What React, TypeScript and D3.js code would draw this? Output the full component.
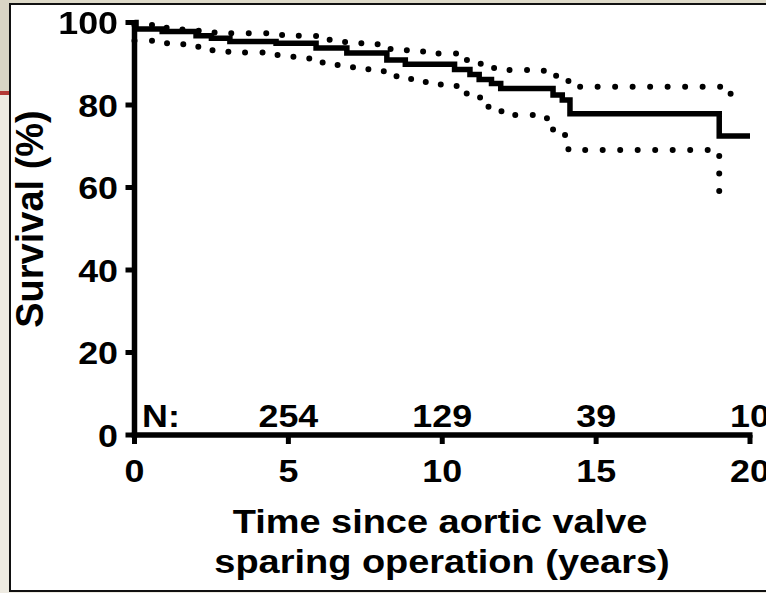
import React from 'react';
import * as d3 from 'd3';

const xTicks = [0, 5, 10, 15, 20];
const yTicks = [0, 20, 40, 60, 80, 100];
const atRiskTimes = [5, 10, 15, 20];
const atRisk = [254, 129, 39, 10];

// Kaplan-Meier estimate: [years, survival %], value holds until next point
const survival = [
  [0, 100], [0.05, 98.4], [0.9, 97.8], [2.0, 96.8], [2.5, 96.2], [3.1, 95.4], [4.6, 95.0],
  [5.9, 93.8], [6.9, 92.6], [8.2, 90.9], [8.8, 89.9], [10.4, 88.6], [10.9, 87.4], [11.2, 86.2],
  [11.6, 85.2], [11.9, 84.0], [13.6, 82.4], [13.9, 81.2], [14.15, 77.9], [19.0, 72.5], [20, 72.5],
];

// 95% confidence band
const upperCI = [
  [0, 99.4], [0.7, 98.7], [1.4, 98.3], [2.0, 98.0], [2.6, 97.6], [3.1, 97.4], [4.3, 97.0],
  [4.8, 96.8], [5.9, 95.8], [6.5, 95.3], [7.0, 95.0], [7.6, 94.7], [8.1, 93.6], [8.6, 93.3],
  [9.2, 93.0], [9.7, 92.5], [10.7, 90.9], [11.1, 90.0], [11.6, 89.0], [12.1, 88.5], [13.3, 87.8],
  [13.7, 86.5], [14.1, 84.4], [19.1, 82.7], [19.4, 82.7],
];
const lowerCI = [
  [0, 95.6], [0.6, 95.0], [1.2, 94.7], [1.8, 94.1], [2.3, 93.3], [2.8, 92.9], [3.4, 92.7],
  [4.5, 92.1], [5.0, 91.7], [5.6, 91.3], [6.1, 90.3], [6.6, 89.5], [7.1, 88.9], [7.6, 88.3],
  [8.1, 87.0], [8.6, 86.3], [9.1, 85.6], [9.6, 85.0], [10.1, 84.6], [10.5, 82.8], [10.9, 81.8],
  [11.3, 79.6], [11.7, 78.5], [12.2, 77.6], [13.2, 76.8], [13.6, 73.9], [13.9, 72.7], [14.1, 69.1],
  [19.0, 57.5], [19.3, 57.5],
];

const font = '"Liberation Sans", Arial, Helvetica, sans-serif';

export default function App() {
  const x = d3.scaleLinear().domain([0, 20]).range([134.5, 750]);
  const y = d3.scaleLinear().domain([0, 100]).range([435, 22.5]);

  const step = d3.line<number[]>()
    .x(d => x(d[0]))
    .y(d => y(d[1]))
    .curve(d3.curveStepAfter);

  const lab = (tx: number, ty: number, sx = 1.12) => `translate(${tx},${ty}) scale(${sx},1)`;

  return (
    <svg width={766} height={593} style={{ position: 'fixed', left: 0, top: 0 }}
      fontFamily={font} fontWeight="bold">
      {/* page background around the figure box */}
      <rect x={0} y={0} width={766} height={593} fill="#eeebe2" />
      <rect x={0} y={0} width={766} height={4} fill="#dedac9" />
      <rect x={0} y={0} width={10} height={92} fill="#d9d5c5" />
      <rect x={0} y={91} width={10} height={4} fill="#b33a36" />
      <rect x={10} y={4} width={770} height={587} fill="#fff" stroke="#111" strokeWidth={2} />

      {/* confidence band */}
      {[upperCI, lowerCI].map((band, i) => (
        <path key={i} d={step(band) ?? ''} fill="none" stroke="#000" strokeWidth={6}
          strokeLinecap="round" strokeDasharray="0 17.5" />
      ))}
      {/* survival curve */}
      <path d={step(survival) ?? ''} fill="none" stroke="#000" strokeWidth={5.5} />

      {/* axes */}
      <line x1={x(0)} x2={x(0)} y1={y(100) - 2.5} y2={y(0) + 2.75} stroke="#000" strokeWidth={5.5} />
      <line x1={x(0) - 2.75} x2={x(20) + 2.5} y1={y(0)} y2={y(0)} stroke="#000" strokeWidth={5.5} />
      {yTicks.map(t => (
        <g key={t}>
          <line x1={x(0) - 9} x2={x(0)} y1={y(t)} y2={y(t)} stroke="#000" strokeWidth={5} />
          <text transform={lab(118, y(t) + 11.5)} textAnchor="end" fontSize={32}>{t}</text>
        </g>
      ))}
      {xTicks.map(t => (
        <g key={t}>
          <line x1={x(t)} x2={x(t)} y1={y(0)} y2={y(0) + 9} stroke="#000" strokeWidth={5} />
          <text transform={lab(x(t), 482)} textAnchor="middle" fontSize={32}>{t}</text>
        </g>
      ))}

      {/* numbers at risk */}
      <text transform={lab(142, 427)} fontSize={32}>N:</text>
      {atRisk.map((n, i) => (
        <text key={n} transform={lab(x(atRiskTimes[i]), 427)} textAnchor="middle" fontSize={32}>{n}</text>
      ))}

      {/* axis titles */}
      <text transform={lab(440, 533, 1.15)} textAnchor="middle" fontSize={33}>Time since aortic valve</text>
      <text transform={lab(442, 573, 1.15)} textAnchor="middle" fontSize={33}>sparing operation (years)</text>
      <text transform="translate(43,219) rotate(-90)" textAnchor="middle" fontSize={38}>Survival (%)</text>
    </svg>
  );
}
